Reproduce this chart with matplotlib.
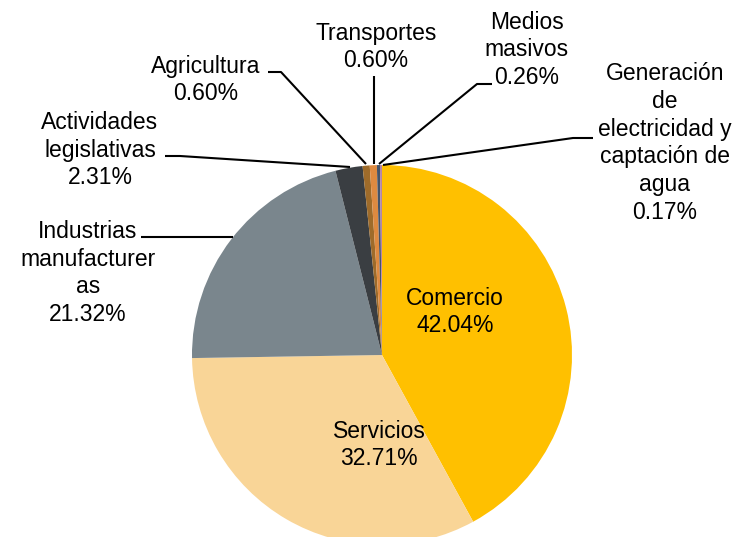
import matplotlib
matplotlib.use("Agg")
import matplotlib.pyplot as plt

# datos del grafico
sectores = ["Comercio", "Servicios", "Industrias\nmanufacturer\nas", "Actividades\nlegislativas",
            "Agricultura", "Transportes", "Medios\nmasivos",
            "Generación\nde\nelectricidad y\ncaptación de\nagua"]
porcentajes = [42.04, 32.71, 21.32, 2.31, 0.60, 0.60, 0.26, 0.17]
colores = ["#FFC000", "#F9D597", "#7A868D", "#3A3E42", "#9E6B2A", "#DE8A40", "#44546A", "#B585A8"]

W, H = 739, 537
fig = plt.figure(figsize=(W / 100, H / 100), dpi=100)
ax = fig.add_axes([0, 0, 1, 1])


def py(y):
    # pixel desde arriba -> coordenada de datos
    return H - y


cx, cy, r = 382, 355, 190
ax.pie(porcentajes, colors=colores, startangle=90, counterclock=False,
       center=(cx, py(cy)), radius=r, frame=True,
       wedgeprops=dict(linewidth=0))
ax.set_xlim(0, W)
ax.set_ylim(0, H)
ax.set_aspect("equal")
ax.axis("off")

fs = 16.5
fam = ["Liberation Sans", "DejaVu Sans"]


def etiqueta(i, x, y):
    txt = sectores[i] + "\n" + f"{porcentajes[i]:.2f}%"
    ax.text(x, py(y), txt, ha="center", va="center", fontsize=fs,
            family=fam, linespacing=1.27, color="black")


def linea(puntos):
    xs = [p[0] for p in puntos]
    ys = [py(p[1]) for p in puntos]
    ax.plot(xs, ys, color="black", linewidth=1.5, solid_capstyle="butt")


# etiquetas internas
etiqueta(0, 455, 312)
etiqueta(1, 379, 445)

# etiquetas externas con lineas guia
etiqueta(2, 88, 273)
linea([(141, 237), (233, 237)])

etiqueta(3, 100, 150)
linea([(165, 156), (180, 156), (350, 167)])

etiqueta(4, 206, 80)
linea([(268, 72), (281, 72), (366, 164)])

etiqueta(5, 376, 47)
linea([(374, 76), (374, 164)])

etiqueta(6, 527, 50)
linea([(492, 84), (477, 84), (379, 164)])

etiqueta(7, 665, 143)
linea([(383, 165), (573, 138), (593, 138)])

fig.savefig("out.png", dpi=100)
